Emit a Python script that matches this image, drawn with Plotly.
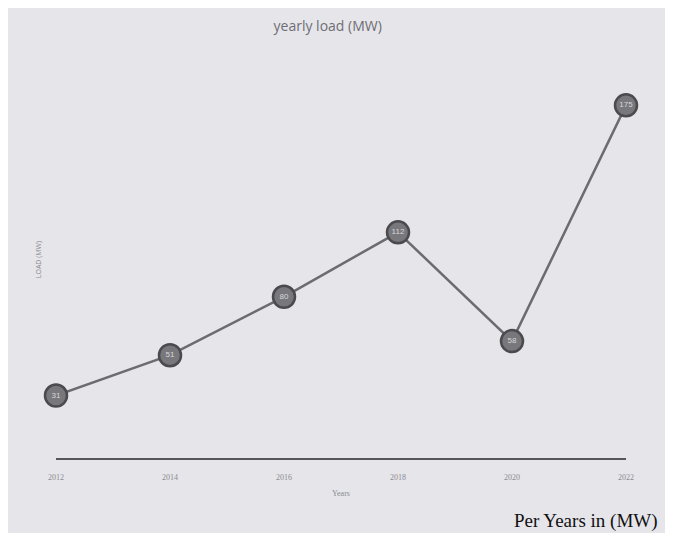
import plotly.graph_objects as go

years = [2012, 2014, 2016, 2018, 2020, 2022]
load_mw = [31, 51, 80, 112, 58, 175]
tick_labels = ["2012", "2014", "2016", "2018", "2020", "2022"]

text_color = "#7a7a80"
bg_color = "#e6e5ea"

fig = go.Figure()
fig.add_trace(go.Scatter(
    x=years,
    y=load_mw,
    mode="lines+markers+text",
    text=[str(v) for v in load_mw],
    textposition="middle center",
    textfont=dict(size=8, color="#d8d8dc", family="Liberation Sans"),
    line=dict(color="#6b6b70", width=2.5),
    marker=dict(size=22, color="#77777c", line=dict(color="#4a4a4f", width=2.5)),
    showlegend=False,
    cliponaxis=False,
))

fig.update_layout(
    width=673,
    height=533,
    paper_bgcolor=bg_color,
    plot_bgcolor=bg_color,
    font=dict(family="Open Sans, sans-serif", color=text_color, size=9),
    margin=dict(l=48, r=55, t=53, b=83),
    title=dict(text="yearly load (MW)", x=0.475, y=0.975, xanchor="center", yanchor="top",
               font=dict(size=14, color="#6e6e74")),
    xaxis=dict(
        range=[2012, 2022],
        tickvals=years,
        ticktext=tick_labels,
        showgrid=False,
        zeroline=False,
        showline=True,
        linecolor="#55555a",
        linewidth=2,
        ticks="",
        ticklabelstandoff=10,
        tickfont=dict(size=8, color="#8a8a90", family="Liberation Serif"),
        title=dict(text="Years", font=dict(size=8, color="#8a8a90", family="Liberation Serif"), standoff=10),
    ),
    yaxis=dict(
        range=[0, 197],
        showgrid=False,
        zeroline=False,
        showline=False,
        showticklabels=False,
        ticks="",
        title=dict(text="LOAD (MW)", font=dict(size=7, color="#8a8a90"), standoff=12),
    ),
)

fig.add_annotation(
    text="Per Years in (MW)",
    xref="paper", yref="paper",
    x=1.06, y=-0.125, xanchor="right", yanchor="top",
    showarrow=False,
    font=dict(family="Liberation Serif", size=19, color="#111111"),
)

fig.write_html("out.html")
